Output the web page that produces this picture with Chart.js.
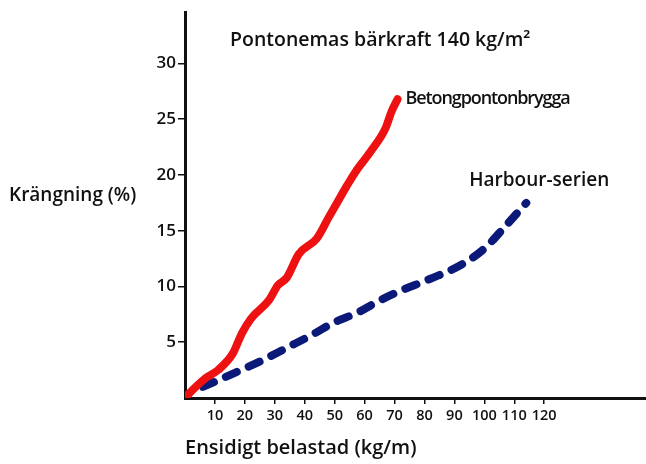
<!DOCTYPE html>
<html>
<head>
<meta charset="utf-8">
<script src="https://cdn.jsdelivr.net/npm/chart.js@4"></script>
<style>
  html, body { margin: 0; padding: 0; background: #fff; }
  #wrap { width: 646px; height: 464px; }
</style>
</head>
<body>
<div id="wrap"><canvas id="chart" width="646" height="464"></canvas></div>
<script>
// data
const betongX = [0, 1, 7, 11, 16, 19, 22, 28, 31, 34, 38, 44, 48, 51, 54, 57, 62, 67, 69, 71];
const betongY = [0, 0.3, 1.8, 2.5, 4.0, 5.8, 7.1, 8.75, 10.1, 10.8, 12.9, 14.3, 16.2, 17.6, 19.0, 20.3, 22.1, 24.2, 25.7, 26.8];
const harbourX = [6, 17, 26, 34, 42, 50, 58, 64, 71, 82, 92, 100, 107, 114];
const harbourY = [1.0, 2.3, 3.4, 4.5, 5.6, 6.8, 7.7, 8.6, 9.5, 10.7, 11.9, 13.4, 15.4, 17.5];
const xTicks = [10, 20, 30, 40, 50, 60, 70, 80, 90, 100, 110, 120];
const yTicks = [5, 10, 15, 20, 25, 30];

const FONT = "'Open Sans', sans-serif";

const toPoints = (xs, ys) => xs.map((x, i) => ({ x: x, y: ys[i] }));

// texts that sit inside the plot
const textPlugin = {
    id: 'texts',
    afterDraw(chart) {
        const ctx = chart.ctx;
        ctx.save();
        ctx.fillStyle = '#111';
        ctx.textBaseline = 'middle';
        ctx.textAlign = 'left';

        ctx.font = '600 19.5px ' + FONT;
        ctx.fillText('Pontonemas bärkraft 140 kg/m²', 230, 40);

        ctx.font = '600 19px ' + FONT;
        ctx.fillText('Krängning (%)', 9, 196);

        // series names next to the end of each line
        const m0 = chart.getDatasetMeta(0).data;
        const end0 = m0[m0.length - 1];
        ctx.font = '600 18px ' + FONT;
        ctx.letterSpacing = '-1.1px';
        ctx.fillText('Betongpontonbrygga', end0.x + 8, end0.y);
        ctx.letterSpacing = '0px';

        const m1 = chart.getDatasetMeta(1).data;
        const end1 = m1[m1.length - 1];
        ctx.font = '600 19px ' + FONT;
        ctx.fillText('Harbour-serien', end1.x - 57, end1.y - 22);
        ctx.restore();
    }
};

new Chart(document.getElementById('chart'), {
    type: 'line',
    data: {
        datasets: [
            {
                label: 'Betongpontonbrygga',
                data: toPoints(betongX, betongY),
                borderColor: '#ee1111',
                borderWidth: 8,
                borderCapStyle: 'round',
                borderJoinStyle: 'round',
                cubicInterpolationMode: 'monotone',
                pointRadius: 0
            },
            {
                label: 'Harbour-serien',
                data: toPoints(harbourX, harbourY),
                borderColor: '#0b1a78',
                borderWidth: 8,
                borderDash: [12, 13],
                borderCapStyle: 'round',
                cubicInterpolationMode: 'monotone',
                pointRadius: 0
            }
        ]
    },
    options: {
        responsive: false,
        animation: false,
        layout: { padding: { top: 10, right: 0, left: 0, bottom: 0 } },
        plugins: {
            legend: { display: false },
            tooltip: { enabled: false }
        },
        scales: {
            x: {
                type: 'linear',
                min: 0,
                max: 154,
                afterFit(scale) { scale.height = 66; },
                afterBuildTicks(scale) { scale.ticks = xTicks.map(v => ({ value: v })); },
                border: { display: true, color: '#111', width: 3 },
                grid: { drawOnChartArea: false, color: '#111', tickLength: 6, lineWidth: 1.5 },
                ticks: {
                    color: '#111',
                    font: { family: FONT, size: 14.5, weight: '600' },
                    padding: 3,
                    maxRotation: 0,
                    autoSkip: false
                },
                title: {
                    display: true,
                    text: 'Ensidigt belastad (kg/m)',
                    align: 'start',
                    color: '#111',
                    font: { family: FONT, size: 20, weight: '600' },
                    padding: { top: 5 }
                }
            },
            y: {
                type: 'linear',
                min: 0,
                max: 34.6,
                afterFit(scale) { scale.width = 185; },
                afterBuildTicks(scale) { scale.ticks = yTicks.map(v => ({ value: v })); },
                border: { display: true, color: '#111', width: 3 },
                grid: { drawOnChartArea: false, color: '#111', tickLength: 7, lineWidth: 1.5 },
                ticks: {
                    color: '#111',
                    font: { family: FONT, size: 17, weight: '600' },
                    padding: 2
                }
            }
        }
    },
    plugins: [textPlugin]
});
</script>
</body>
</html>
